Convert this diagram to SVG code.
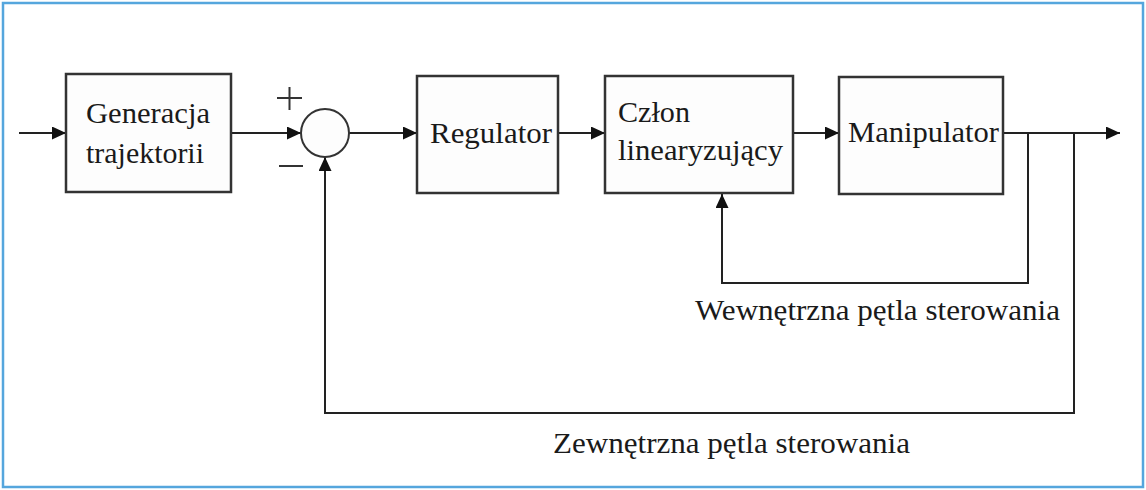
<svg xmlns="http://www.w3.org/2000/svg" width="1146" height="490" viewBox="0 0 1146 490">
<defs>
<marker id="arr" markerUnits="userSpaceOnUse" markerWidth="14" markerHeight="13" refX="14" refY="6.5" orient="auto">
<path d="M0,0 L14,6.5 L0,13 z" fill="#111"/>
</marker>
<style>
.box{fill:#fdfdfd;stroke:#333;stroke-width:2.5}
.ln{fill:none;stroke:#222;stroke-width:2}
.t{font-family:"Liberation Serif","Times New Roman",serif;font-size:29px;fill:#1a1a1a}
</style>
</defs>
<rect x="0" y="0" width="1146" height="490" fill="#ffffff"/>
<rect x="3" y="3" width="1140" height="484" fill="#ffffff" stroke="#55a6dd" stroke-width="2.5"/>
<g id="connectors">
<line class="ln" x1="19" y1="133" x2="66" y2="133" marker-end="url(#arr)"/>
<line class="ln" x1="231" y1="133" x2="301" y2="133" marker-end="url(#arr)"/>
<line class="ln" x1="349" y1="133" x2="417" y2="133" marker-end="url(#arr)"/>
<line class="ln" x1="558" y1="133" x2="605" y2="133" marker-end="url(#arr)"/>
<line class="ln" x1="793" y1="133" x2="839" y2="133" marker-end="url(#arr)"/>
<line class="ln" x1="1003" y1="133" x2="1120" y2="133" marker-end="url(#arr)"/>
<polyline class="ln" points="1028,133 1028,283 722,283 722,194" marker-end="url(#arr)"/>
<polyline class="ln" points="1074,133 1074,413 325,413 325,157" marker-end="url(#arr)"/>
</g>
<g id="generacja">
<rect class="box" x="66" y="74" width="165" height="118"/>
<text class="t" x="86" y="123" textLength="124" lengthAdjust="spacingAndGlyphs">Generacja</text>
<text class="t" x="86" y="163" textLength="118" lengthAdjust="spacingAndGlyphs">trajektorii</text>
</g>
<g id="sumator">
<circle cx="325" cy="133" r="24" fill="#fdfdfd" stroke="#333" stroke-width="2"/>
<path d="M277,98 H302 M289.5,87 V110" stroke="#333" stroke-width="2" fill="none"/>
<path d="M279,166 H303" stroke="#333" stroke-width="2" fill="none"/>
</g>
<g id="regulator">
<rect class="box" x="417" y="76" width="141" height="117"/>
<text class="t" x="430" y="143" textLength="122" lengthAdjust="spacingAndGlyphs">Regulator</text>
</g>
<g id="czlon">
<rect class="box" x="605" y="76" width="188" height="117"/>
<text class="t" x="618" y="122" textLength="72" lengthAdjust="spacingAndGlyphs">Człon</text>
<text class="t" x="618" y="160" textLength="165" lengthAdjust="spacingAndGlyphs">linearyzujący</text>
</g>
<g id="manipulator">
<rect class="box" x="839" y="77" width="164" height="117"/>
<text class="t" x="848" y="142" textLength="151" lengthAdjust="spacingAndGlyphs">Manipulator</text>
</g>
<g id="labels">
<text class="t" x="695" y="320" textLength="365" lengthAdjust="spacingAndGlyphs">Wewnętrzna pętla sterowania</text>
<text class="t" x="553" y="453" textLength="357" lengthAdjust="spacingAndGlyphs">Zewnętrzna pętla sterowania</text>
</g>
</svg>
